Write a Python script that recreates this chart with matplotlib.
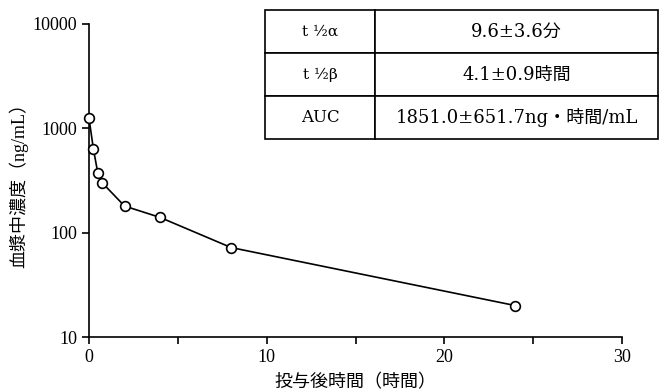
import matplotlib
matplotlib.use("Agg")
import matplotlib.pyplot as plt
from matplotlib.ticker import FixedLocator, NullLocator, FixedFormatter

plt.rcParams['font.family'] = ['Liberation Serif', 'Noto Sans CJK JP', 'DejaVu Sans']

time_h = [0, 0.25, 0.5, 0.75, 2, 4, 8, 24]
conc = [1250, 630, 370, 300, 180, 140, 72, 20]

x_ticks = [0, 10, 20, 30]
x_minor = [5, 15, 25]
y_ticks = [10, 100, 1000, 10000]
y_labels = ['10', '100', '1000', '10000']

table_rows = [
    ["t ½α", "9.6±3.6分"],
    ["t ½β", "4.1±0.9時間"],
    ["AUC", "1851.0±651.7ng・時間/mL"],
]

fig = plt.figure(figsize=(6.59, 3.90), dpi=100)
ax = fig.add_axes([89/659, 1-337/390, (622-89)/659, (337-24)/390])
ax.plot(time_h, conc, color='black', lw=1.2, marker='o', markersize=7,
        markerfacecolor='white', markeredgecolor='black', markeredgewidth=1.2,
        clip_on=False, zorder=3)
ax.set_yscale('log')
ax.set_xlim(0, 30)
ax.set_ylim(10, 10000)
ax.xaxis.set_major_locator(FixedLocator(x_ticks))
ax.xaxis.set_minor_locator(FixedLocator(x_minor))
ax.yaxis.set_major_locator(FixedLocator(y_ticks))
ax.yaxis.set_major_formatter(FixedFormatter(y_labels))
ax.yaxis.set_minor_locator(NullLocator())
ax.spines['top'].set_visible(False)
ax.spines['right'].set_visible(False)
for s in ['left', 'bottom']:
    ax.spines[s].set_linewidth(1.2)
ax.tick_params(axis='both', which='major', direction='out', length=5, width=1.2, labelsize=13)
ax.tick_params(axis='x', which='minor', direction='out', length=5, width=1.2)
ax.set_xlabel('投与後時間（時間）', fontsize=13, labelpad=6)
ax.set_ylabel('血漿中濃度（ng/mL）', fontsize=13, labelpad=3)

tax = fig.add_axes([265/659, 1-139/390, (658-265)/659, (139-10)/390])
tax.axis('off')
tbl = tax.table(cellText=table_rows, cellLoc='center', bbox=[0, 0, 1, 1],
                colWidths=[110/393, 283/393])
tbl.auto_set_font_size(False)
for (r, c), cell in tbl.get_celld().items():
    cell.set_linewidth(1.2)
    cell.set_edgecolor('black')
    t = cell.get_text()
    t.set_fontfamily(['DejaVu Serif', 'Noto Sans CJK JP'])
    t.set_fontsize(13 if c == 1 else (12 if r == 2 else 11))

fig.savefig('out.png', dpi=100)
